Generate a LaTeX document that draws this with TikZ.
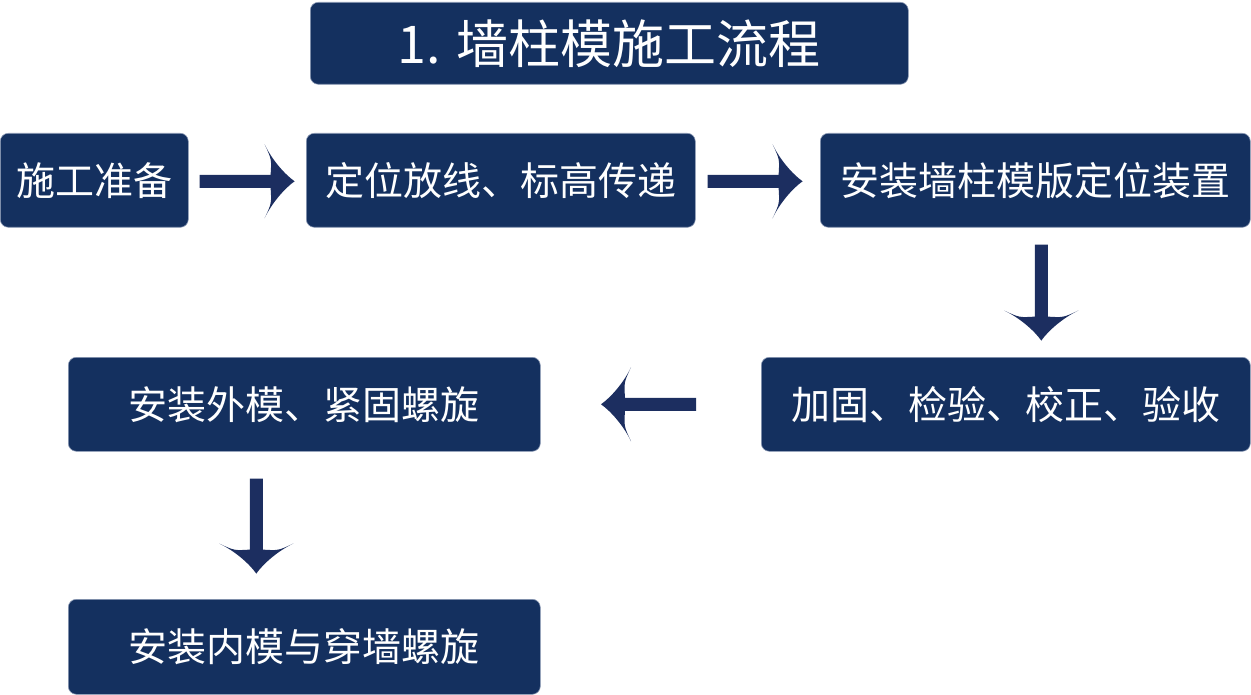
\documentclass[tikz,border=0pt]{standalone}
\usepackage{fontspec}
\newfontfamily\cjk{Noto Sans CJK SC}
\usetikzlibrary{calc}
\definecolor{boxcol}{HTML}{14305F}
\definecolor{arrowcol}{HTML}{1C2E60}
\definecolor{edgecol}{HTML}{8C9AB5}
\tikzset{
  stepbox/.style={anchor=north west, rectangle, rounded corners=8pt, fill=boxcol,
    draw=edgecol, line width=0.6pt, inner sep=0pt, text=white,
    font=\cjk\fontsize{39}{39}\selectfont},
  titlebox/.style={stepbox, font=\cjk\fontsize{52}{52}\selectfont},
  pics/flowarrow/.style={code={
    \fill[arrowcol] (0,-6.5) -- (#1-24,-6.5) .. controls (#1-23,-22) .. (#1-30,-37)
      .. controls (#1-23,-22) and (#1-10,-7) .. (#1,0)
      .. controls (#1-10,7) and (#1-23,22) .. (#1-30,37)
      .. controls (#1-23,22) .. (#1-24,6.5) -- (0,6.5) -- cycle;
  }}
}
\begin{document}
\begin{tikzpicture}[x=1pt,y=-1pt]
\useasboundingbox (0,0) rectangle (1251,695);
\node[titlebox, minimum width=598pt, minimum height=82pt] (t) at (310,2) {1. 墙柱模施工流程};
\node[stepbox, minimum width=188pt, minimum height=94pt] (b1) at (0,133) {施工准备};
\node[stepbox, minimum width=389pt, minimum height=94pt] (b2) at (306,133) {定位放线、标高传递};
\node[stepbox, minimum width=430pt, minimum height=94pt] (b3) at (820,133) {安装墙柱模版定位装置};
\node[stepbox, minimum width=472pt, minimum height=94pt] (b4) at (68,357) {安装外模、紧固螺旋};
\node[stepbox, minimum width=489pt, minimum height=94pt] (b5) at (761,357) {加固、检验、校正、验收};
\node[stepbox, minimum width=472pt, minimum height=95pt] (b6) at (68,599) {安装内模与穿墙螺旋};
\pic at ($(b1.east)+(11,1)$) {flowarrow=95};
\pic at ($(b2.east)+(12,1)$) {flowarrow=95};
\pic[rotate=-90] at ($(b3.south)+(6,17)$) {flowarrow=96};
\pic[rotate=180] at ($(b5.west)+(-65,0)$) {flowarrow=95};
\pic[rotate=-90] at ($(b4.south)+(-48,27)$) {flowarrow=95};
\end{tikzpicture}
\end{document}
